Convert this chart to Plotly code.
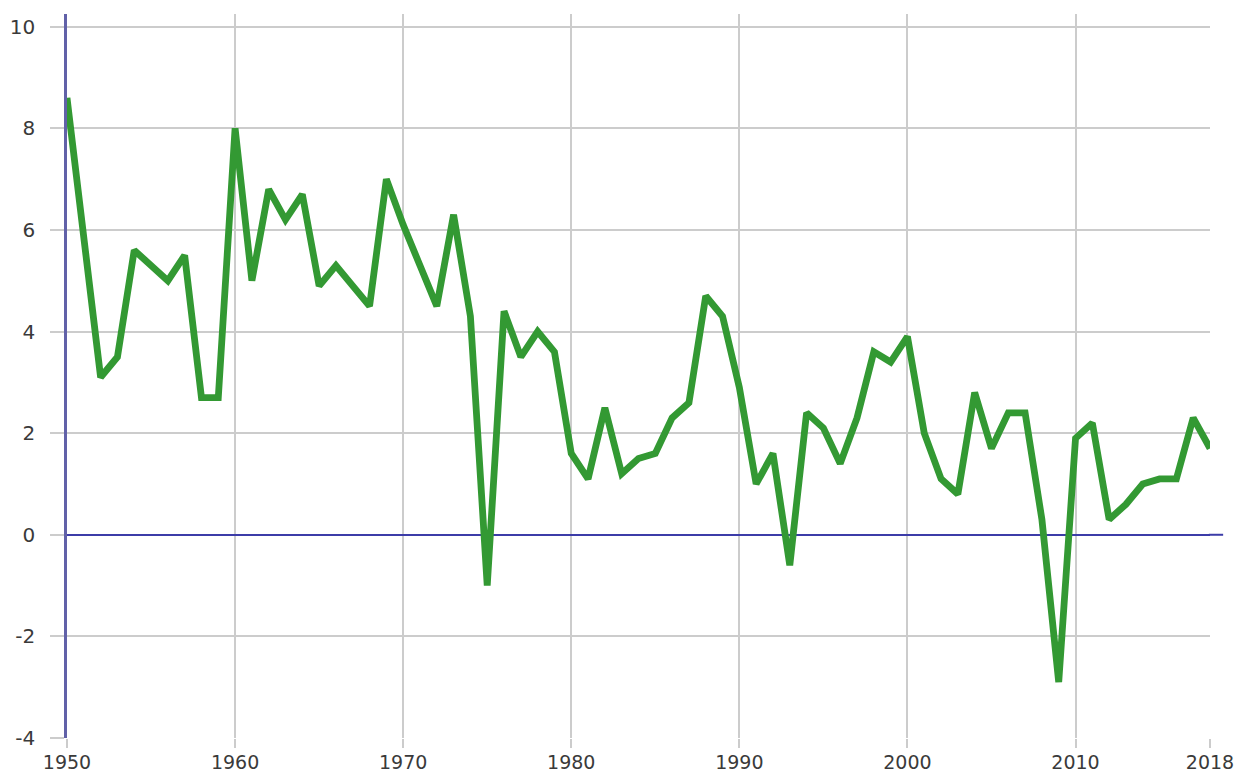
import plotly.graph_objects as go

years = list(range(1950, 2019))
growth = [8.6, 5.8, 3.1, 3.5, 5.6, 5.3, 5.0, 5.5, 2.7, 2.7,
          8.0, 5.0, 6.8, 6.2, 6.7, 4.9, 5.3, 4.9, 4.5, 7.0,
          6.1, 5.3, 4.5, 6.3, 4.3, -1.0, 4.4, 3.5, 4.0, 3.6,
          1.6, 1.1, 2.5, 1.2, 1.5, 1.6, 2.3, 2.6, 4.7, 4.3,
          2.9, 1.0, 1.6, -0.6, 2.4, 2.1, 1.4, 2.3, 3.6, 3.4,
          3.9, 2.0, 1.1, 0.8, 2.8, 1.7, 2.4, 2.4, 0.3, -2.9,
          1.9, 2.2, 0.3, 0.6, 1.0, 1.1, 1.1, 2.3, 1.7]

x_ticks = [1950, 1960, 1970, 1980, 1990, 2000, 2010, 2018]
x_tick_labels = ["1950", "1960", "1970", "1980", "1990", "2000", "2010", "2018"]
y_ticks = [-4, -2, 0, 2, 4, 6, 8, 10]
y_tick_labels = ["-4", "-2", "0", "2", "4", "6", "8", "10"]

y_min, y_max = -4, 10.25

fig = go.Figure()
fig.add_trace(go.Scatter(
    x=years, y=growth, mode="lines",
    line=dict(color="#339933", width=6.8, shape="linear"),
    hoverinfo="x+y", showlegend=False,
))

xfont = dict(family="DejaVu Sans", size=19, color="#3a3a3a")
yfont = dict(family="DejaVu Sans", size=20, color="#3a3a3a")

zero_frac = (0 - y_min) / (y_max - y_min)

fig.update_layout(
    width=1235, height=768,
    margin=dict(l=59, r=33, t=6, b=38, autoexpand=False),
    paper_bgcolor="white", plot_bgcolor="white",
    xaxis=dict(
        range=[1950, 2018], tickvals=x_ticks, ticktext=x_tick_labels,
        showgrid=True, gridcolor="#cccccc", gridwidth=1.5,
        ticks="outside", ticklen=9, tickcolor="#cccccc", tickwidth=1.5,
        ticklabelstandoff=-2,
        zeroline=False, showline=False, tickfont=xfont, automargin=False,
    ),
    yaxis=dict(
        range=[y_min, y_max], tickvals=y_ticks, ticktext=y_tick_labels,
        showgrid=True, gridcolor="#cccccc", gridwidth=1.5,
        ticks="outside", ticklen=14, tickcolor="#cccccc", tickwidth=1.5,
        ticklabelstandoff=11,
        zeroline=True, zerolinecolor="#3c3ca8", zerolinewidth=2,
        showline=True, linecolor="#6161a8", linewidth=2.5,
        tickfont=yfont, automargin=False,
    ),
    shapes=[dict(
        type="line", xref="paper", yref="paper", x0=0.999, x1=1.0115,
        y0=zero_frac, y1=zero_frac,
        line=dict(color="#3c3ca8", width=2), layer="above",
    )],
)

fig.write_html("out.html")
